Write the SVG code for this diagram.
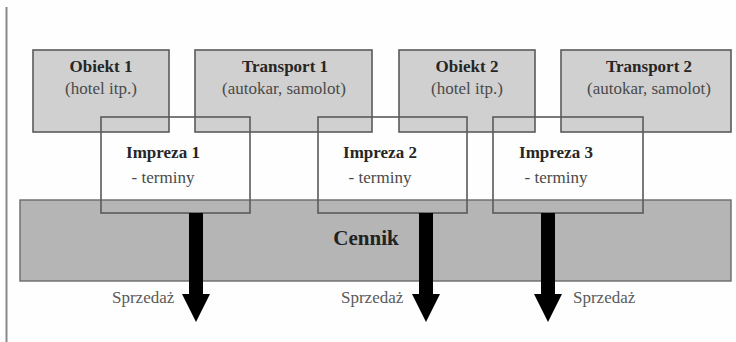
<svg xmlns="http://www.w3.org/2000/svg" width="736" height="342" viewBox="0 0 736 342">
  <style>
    .res { fill: #d0d0d0; stroke: #5a5a5a; stroke-width: 1.6; }
    .event { fill: none; stroke: #5a5a5a; stroke-width: 1.6; }
    .price { fill: #b5b5b5; stroke: #6a6a6a; stroke-width: 1.4; }
    text { font-family: "Liberation Serif", "DejaVu Serif", serif; }
    .title { font-weight: bold; font-size: 17px; fill: #262626; text-anchor: middle; }
    .sub { font-size: 17px; fill: #4a4a4a; text-anchor: middle; }
    .big { font-weight: bold; font-size: 21px; fill: #222; text-anchor: middle; }
    .sale { font-size: 17px; fill: #5a5a5a; }
    .arrow { fill: #000; }
  </style>
  <rect width="736" height="342" fill="#fefefe"/>
  <line x1="6.5" y1="7" x2="6.5" y2="342" stroke="#8a8a8a" stroke-width="2"/>

  <!-- resources -->
  <g id="obiekt1">
    <rect class="res" x="33" y="50" width="136" height="82"/>
    <text class="title" x="101" y="72">Obiekt 1</text>
    <text class="sub" x="101" y="94">(hotel itp.)</text>
  </g>
  <g id="transport1">
    <rect class="res" x="195" y="50" width="177" height="82"/>
    <text class="title" x="285" y="72">Transport 1</text>
    <text class="sub" x="284" y="94">(autokar, samolot)</text>
  </g>
  <g id="obiekt2">
    <rect class="res" x="399" y="50" width="136" height="82"/>
    <text class="title" x="467" y="72">Obiekt 2</text>
    <text class="sub" x="467" y="94">(hotel itp.)</text>
  </g>
  <g id="transport2">
    <rect class="res" x="561" y="50" width="170" height="82"/>
    <text class="title" x="649" y="72">Transport 2</text>
    <text class="sub" x="649" y="94">(autokar, samolot)</text>
  </g>

  <!-- price list -->
  <g id="cennik">
    <rect class="price" x="20" y="200" width="711" height="81"/>
    <text class="big" x="366" y="245">Cennik</text>
  </g>

  <!-- events -->
  <g id="impreza1">
    <rect class="event" x="101" y="117" width="149" height="96"/>
    <text class="title" x="163" y="158">Impreza 1</text>
    <text class="sub" x="163" y="183">- terminy</text>
  </g>
  <g id="impreza2">
    <rect class="event" x="318" y="117" width="149" height="96"/>
    <text class="title" x="380" y="158">Impreza 2</text>
    <text class="sub" x="380" y="183">- terminy</text>
  </g>
  <g id="impreza3">
    <rect class="event" x="493" y="117" width="150" height="96"/>
    <text class="title" x="556" y="158">Impreza 3</text>
    <text class="sub" x="556" y="183">- terminy</text>
  </g>

  <!-- sale arrows -->
  <g id="connectors">
    <path class="arrow" d="M189 213 H203 V294 H210 L196 322 L182 294 H189 Z"/>
    <path class="arrow" d="M419 213 H433 V294 H440 L426 322 L412 294 H419 Z"/>
    <path class="arrow" d="M541 213 H555 V294 H562 L548 322 L534 294 H541 Z"/>
    <text class="sale" x="112" y="303">Sprzedaż</text>
    <text class="sale" x="341" y="303">Sprzedaż</text>
    <text class="sale" x="573" y="303">Sprzedaż</text>
  </g>
</svg>
